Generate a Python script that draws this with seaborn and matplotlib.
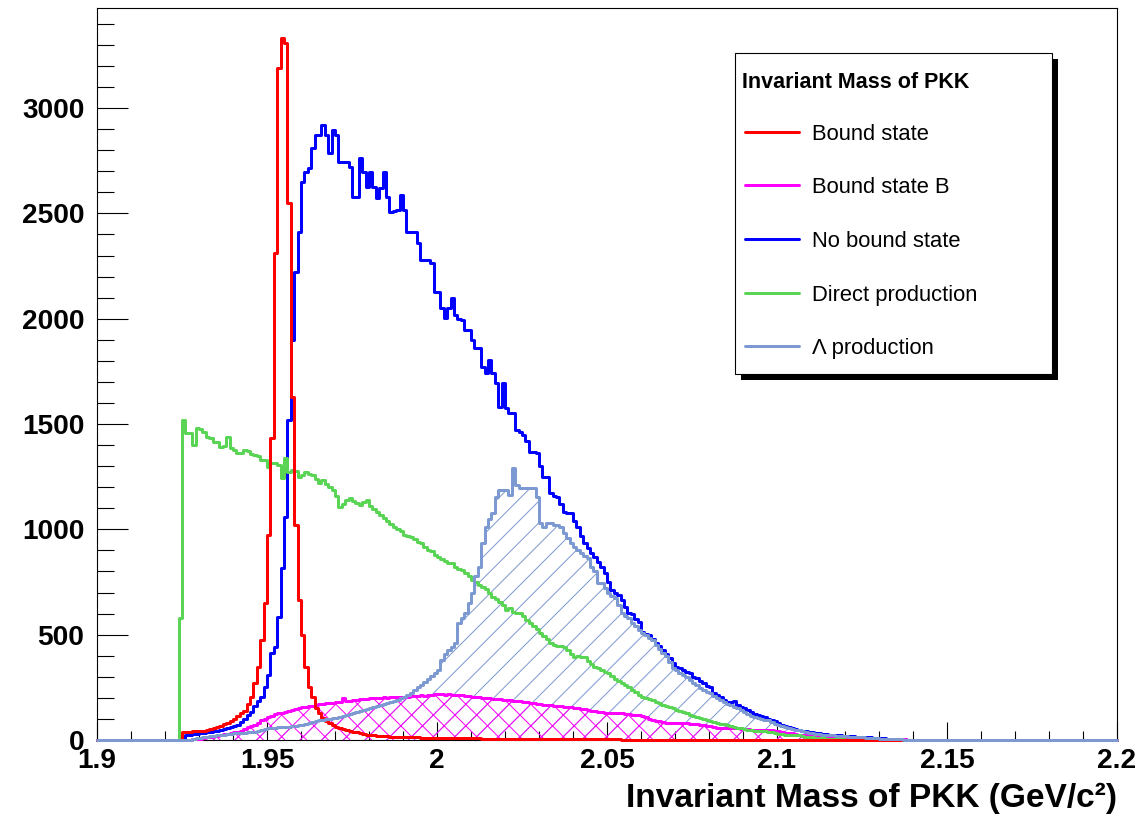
import numpy as np
import matplotlib
matplotlib.use("Agg")
import matplotlib.pyplot as plt
from matplotlib.lines import Line2D
from matplotlib.patches import Rectangle
from matplotlib.ticker import MultipleLocator, FuncFormatter
import seaborn as sns

# ---------------- data (counts per 0.001 GeV bin) ----------------
MASS_MIN, MASS_MAX, BIN_WIDTH = 1.9, 2.2, 0.001

series_labels = ["Bound state", "Bound state B", "No bound state",
                 "Direct production", "\u039b production"]
series_colors = ["#ff0000", "#ff00ff", "#0000ff", "#59d454", "#7d99d1"]

red_first = 1.925
red_counts = [40, 40, 40, 41, 42, 42, 45, 48, 52, 55, 60, 65, 75, 81, 90, 100, 115, 128, 140, 170,
              204, 270, 346, 475, 650, 973, 1433, 2311, 3189, 3332, 3310, 2549, 1628, 1020, 664, 498,
              346, 252, 204, 150, 128, 104, 90, 81, 70, 62, 58, 52, 47, 45, 40, 36, 32, 28, 26, 24,
              22, 20, 19, 18, 17, 16, 15, 14, 14, 13, 13, 12, 12, 12, 11, 11, 11, 10, 10, 10, 10, 9,
              9, 9, 9, 9, 8, 8, 8, 8, 8, 8, 7, 7, 7, 7, 7, 7, 7, 6, 6, 6, 6, 6, 6, 6, 5, 5, 5, 5, 5,
              5, 5, 5, 4, 4, 4, 4, 4, 4, 4, 4, 4, 3, 3, 3, 3, 3, 3, 3, 3, 3, 3, 2, 2, 2, 2, 2, 2, 2,
              2, 2, 2, 2, 2, 1, 1, 1, 1, 1, 1, 1, 1, 1, 1, 1, 1, 1, 1, 1, 1, 1, 1, 1, 1]

magenta_first = 1.928
magenta_counts = [3, 5, 7, 9, 12, 15, 18, 21, 24, 27, 30, 33, 36, 38, 45, 52, 60, 66, 71, 82, 95, 100,
                  109, 115, 122, 128, 130, 133, 137, 142, 147, 152, 157, 158, 160, 163, 166, 170, 173,
                  176, 177, 178, 180, 182, 200, 185, 187, 190, 192, 194, 196, 197, 199, 200, 198, 201,
                  202, 200, 203, 204, 202, 205, 204, 206, 208, 207, 210, 212, 211, 214, 216, 218, 220,
                  218, 216, 217, 215, 214, 214, 212, 210, 207, 204, 205, 203, 200, 201, 198, 196, 197,
                  193, 191, 190, 188, 186, 185, 183, 180, 181, 177, 175, 172, 170, 168, 167, 165, 163,
                  162, 160, 158, 157, 155, 153, 150, 148, 146, 142, 140, 138, 135, 133, 130, 128, 128,
                  127, 128, 126, 124, 122, 121, 120, 119, 115, 108, 100, 95, 92, 89, 86, 83, 81, 81,
                  82, 81, 80, 81, 78, 76, 74, 72, 71, 68, 65, 62, 59, 57, 57, 58, 57, 56, 57, 54, 52,
                  50, 48, 47, 47, 48, 46, 47, 47, 44, 41, 38, 35, 33, 31, 28, 26, 24, 22, 20, 18, 16,
                  14, 13, 12, 11, 10, 10, 9, 9, 8, 8, 7, 7, 7, 6, 6, 6, 5, 5, 5, 4, 4, 4, 3, 3, 3, 3,
                  2, 2, 2, 2, 1, 1, 1, 1]

blue_first = 1.926
blue_counts = [24, 25, 27, 29, 31, 33, 36, 39, 42, 45, 47, 52, 57, 62, 66, 71, 85, 100, 118, 133, 160,
               185, 204, 250, 310, 413, 441, 584, 816, 1058, 1519, 1898, 2221, 2411, 2648, 2696, 2715,
               2810, 2871, 2871, 2919, 2870, 2786, 2895, 2871, 2743, 2743, 2743, 2720, 2577, 2577,
               2762, 2696, 2625, 2696, 2625, 2572, 2620, 2696, 2577, 2506, 2510, 2515, 2587, 2515,
               2411, 2411, 2411, 2359, 2278, 2278, 2278, 2264, 2126, 2126, 2050, 2003, 2050, 2098,
               2017, 2000, 1993, 1946, 1946, 1898, 1860, 1860, 1770, 1742, 1803, 1742, 1694, 1580,
               1694, 1576, 1552, 1552, 1471, 1460, 1448, 1420, 1367, 1365, 1362, 1300, 1248, 1248,
               1172, 1160, 1153, 1120, 1082, 1080, 1077, 1040, 1011, 970, 935, 910, 887, 870, 845,
               820, 793, 750, 712, 700, 690, 664, 631, 603, 600, 575, 560, 513, 505, 498, 480, 460,
               445, 427, 410, 389, 365, 346, 340, 332, 325, 318, 300, 294, 280, 270, 258, 252, 225,
               215, 204, 192, 180, 180, 185, 165, 157, 150, 142, 135, 125, 119, 115, 109, 100, 95,
               88, 81, 72, 65, 62, 57, 52, 48, 45, 42, 38, 36, 34, 32, 30, 28, 26, 25, 24, 22, 21,
               19, 18, 17, 16, 15, 14, 13, 12, 11, 10, 9, 8, 7, 6, 5, 4, 3, 3, 2, 2, 1]

green_first = 1.924
green_counts = [580, 1519, 1457, 1457, 1400, 1481, 1475, 1462, 1440, 1436, 1414, 1414, 1391, 1395, 1438,
                1385, 1375, 1362, 1362, 1376, 1374, 1360, 1352, 1350, 1329, 1329, 1296, 1314, 1314,
                1305, 1243, 1338, 1270, 1281, 1275, 1248, 1260, 1272, 1265, 1258, 1240, 1220, 1234,
                1215, 1200, 1187, 1160, 1106, 1120, 1140, 1149, 1135, 1125, 1115, 1130, 1139, 1110,
                1095, 1082, 1070, 1055, 1040, 1025, 1011, 1000, 990, 975, 968, 963, 955, 940, 935, 918,
                902, 895, 880, 869, 860, 850, 838, 840, 821, 810, 807, 793, 780, 759, 750, 735, 726,
                715, 700, 679, 670, 655, 640, 617, 625, 610, 603, 603, 590, 570, 555, 540, 525, 508,
                495, 478, 460, 452, 448, 445, 441, 425, 410, 394, 400, 395, 394, 375, 360, 346, 340,
                332, 325, 318, 305, 290, 280, 270, 262, 250, 237, 230, 215, 204, 200, 196, 190, 182,
                175, 168, 160, 155, 150, 142, 136, 132, 128, 119, 113, 108, 103, 98, 93, 88, 84, 80,
                78, 74, 70, 66, 62, 58, 55, 52, 49, 47, 45, 43, 42, 41, 39, 36, 32, 29, 27, 25, 24,
                24, 24, 22, 19, 16, 14, 12, 10, 9, 8, 7, 6, 5, 4, 3, 3, 2, 1, 1]

lambda_first = 1.928
lambda_counts = [5, 8, 10, 12, 15, 18, 20, 22, 24, 26, 28, 30, 32, 33, 34, 35, 36, 37, 38, 42, 47, 52,
                 55, 57, 58, 60, 61, 62, 63, 65, 67, 69, 71, 75, 80, 85, 90, 95, 97, 99, 101, 103, 104,
                 108, 112, 118, 124, 128, 133, 138, 143, 148, 152, 156, 160, 165, 170, 176, 181, 187,
                 192, 198, 204, 215, 225, 238, 250, 261, 275, 290, 305, 320, 332, 380, 410, 427, 440,
                 460, 555, 580, 603, 650, 698, 780, 821, 935, 1011, 1050, 1077, 1153, 1187, 1187, 1185,
                 1163, 1291, 1210, 1196, 1196, 1196, 1196, 1195, 1153, 1030, 1011, 1030, 1030, 1020,
                 1020, 1011, 982, 960, 935, 915, 902, 887, 875, 864, 821, 800, 745, 745, 720, 698, 685,
                 674, 640, 603, 590, 579, 555, 540, 522, 510, 498, 485, 475, 450, 430, 415, 400, 370,
                 340, 332, 320, 310, 299, 285, 272, 260, 247, 238, 230, 223, 210, 200, 190, 182, 172,
                 165, 157, 150, 141, 133, 125, 116, 109, 105, 100, 97, 93, 85, 78, 71, 65, 60, 57, 52,
                 49, 47, 42, 38, 35, 33, 30, 28, 26, 25, 23, 22, 21, 20, 18, 17, 16, 15, 14, 13, 12,
                 11, 10, 9, 8, 7, 6, 5, 5, 4, 3, 3, 2, 2, 1, 1]

x_title = "Invariant Mass of PKK (GeV/c\u00b2)"
legend_title = "Invariant Mass of PKK"

# ---------------- build binned arrays ----------------
n_bins = int(round((MASS_MAX - MASS_MIN) / BIN_WIDTH))
edges = np.linspace(MASS_MIN, MASS_MAX, n_bins + 1)
centers = 0.5 * (edges[:-1] + edges[1:])


def full(first, counts):
    arr = np.zeros(n_bins)
    i0 = int(round((first - MASS_MIN) / BIN_WIDTH))
    arr[i0:i0 + len(counts)] = counts
    return arr


w_red = full(red_first, red_counts)
w_mag = full(magenta_first, magenta_counts)
w_blue = full(blue_first, blue_counts)
w_green = full(green_first, green_counts)
w_lam = full(lambda_first, lambda_counts)

# ---------------- style ----------------
DPI = 130
W, H = 1144, 822


def pt(px):
    """pixels -> points at the figure dpi"""
    return px * 72.0 / DPI


sns.set_style("white")
plt.rcParams["font.family"] = ["Liberation Sans", "DejaVu Sans"]
plt.rcParams["hatch.linewidth"] = pt(1.0)
for key in ["text.color", "axes.labelcolor", "xtick.color", "ytick.color"]:
    plt.rcParams[key] = "black"

fig = plt.figure(figsize=(W / DPI, H / DPI), dpi=DPI)
ax = fig.add_axes([97 / W, 1 - 740 / H, 1020 / W, 732 / H])

LW = pt(3.0)


def hist_line(w, color, z):
    sns.histplot(x=centers, weights=w, bins=n_bins, binrange=(MASS_MIN, MASS_MAX),
                 element="step", fill=False, color=color, linewidth=LW, ax=ax,
                 zorder=z, clip_on=False)


def hist_hatch(w, color, hatch, z):
    sns.histplot(x=centers, weights=w, bins=n_bins, binrange=(MASS_MIN, MASS_MAX),
                 element="step", fill=True, color=color, facecolor="none",
                 edgecolor=color, hatch=hatch, linewidth=0, ax=ax, zorder=z)


c_red, c_mag, c_blue, c_green, c_lam = series_colors

hist_hatch(w_lam, c_lam, "//", 2.0)
hist_hatch(w_mag, c_mag, "xx", 2.1)
hist_line(w_blue, c_blue, 3.0)
hist_line(w_mag, c_mag, 3.1)
hist_line(w_green, c_green, 3.2)
hist_line(w_red, c_red, 3.3)
hist_line(w_lam, c_lam, 3.4)

# ---------------- axes ----------------
ax.set_xlim(MASS_MIN, MASS_MAX)
ax.set_ylim(0, 3475)
ax.set_ylabel("")
ax.xaxis.set_major_locator(MultipleLocator(0.05))
ax.xaxis.set_minor_locator(MultipleLocator(0.01))
ax.yaxis.set_major_locator(MultipleLocator(500))
ax.yaxis.set_minor_locator(MultipleLocator(100))
ax.xaxis.set_major_formatter(FuncFormatter(lambda v, p: f"{round(v, 3):g}"))
ax.yaxis.set_major_formatter(FuncFormatter(lambda v, p: f"{int(round(v))}"))

TICK_FS = pt(28)
ax.tick_params(axis="x", which="major", direction="in", length=pt(18), width=pt(1.1),
               pad=pt(8), labelsize=TICK_FS, bottom=True, top=False, color="black")
ax.tick_params(axis="x", which="minor", direction="in", length=pt(9), width=pt(1.1),
               bottom=True, top=False, color="black")
ax.tick_params(axis="y", which="major", direction="in", length=pt(31), width=pt(1.1),
               pad=pt(12.5), labelsize=TICK_FS, left=True, right=False, color="black")
ax.tick_params(axis="y", which="minor", direction="in", length=pt(17), width=pt(1.1),
               left=True, right=False, color="black")
for lab in ax.get_xticklabels() + ax.get_yticklabels():
    lab.set_fontweight("bold")

for sp in ax.spines.values():
    sp.set_color("black")
    sp.set_linewidth(pt(1.1))

ax.set_xlabel(x_title, loc="right", fontsize=pt(33.5), fontweight="bold", labelpad=pt(9))

# ---------------- legend ----------------
ax.add_patch(Rectangle((741 / W, 1 - 380 / H), 317 / W, 321 / H, transform=fig.transFigure,
                       facecolor="black", edgecolor="none", zorder=10, clip_on=False))
ax.add_patch(Rectangle((735 / W, 1 - 374 / H), 317 / W, 321 / H, transform=fig.transFigure,
                       facecolor="white", edgecolor="black", linewidth=pt(1.1), zorder=11,
                       clip_on=False))
ax.text(742 / W, 1 - 82 / H, legend_title, transform=fig.transFigure, ha="left", va="center",
        fontsize=pt(21.5), fontweight="bold", zorder=21)
handles = [Line2D([], [], color=c, lw=LW) for c in series_colors]
LEG_FS = pt(22)
leg = ax.legend(handles, series_labels, loc="upper left",
                bbox_to_anchor=(745 / W, 1 - 123.5 / H), bbox_transform=fig.transFigure,
                frameon=False, fontsize=LEG_FS,
                handlelength=2.45, handletextpad=0.6,
                labelspacing=1.485, borderpad=0, borderaxespad=0)
leg.set_zorder(20)

fig.savefig("out.png", dpi=DPI)
